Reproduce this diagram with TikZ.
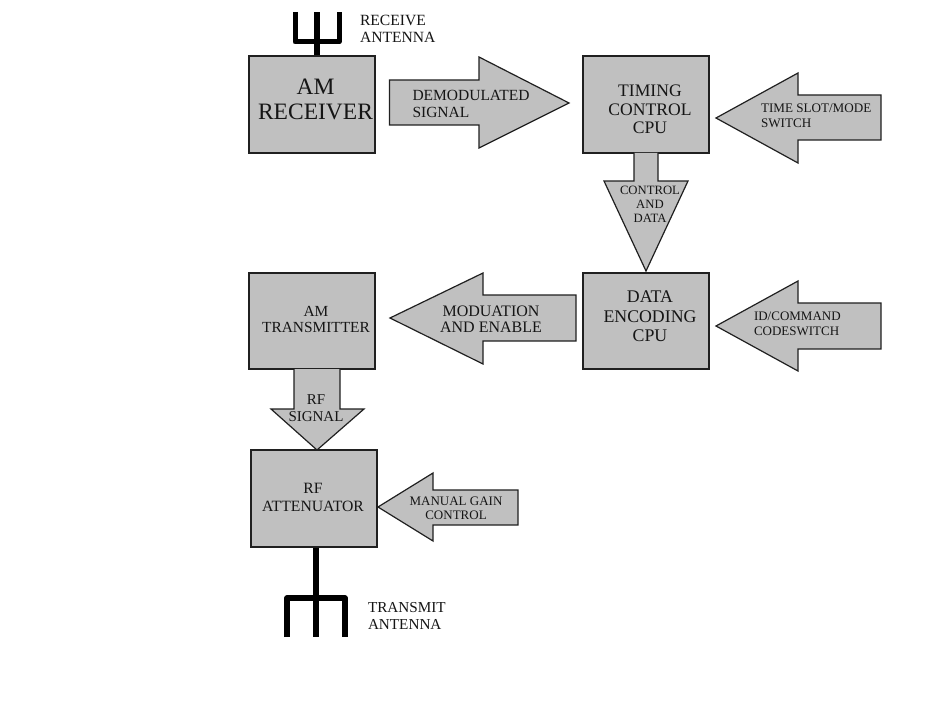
\documentclass[tikz,border=0pt]{standalone}
\usepackage{fontspec}
\setmainfont{Liberation Serif}
\definecolor{blockfill}{HTML}{C0C0C0}
\definecolor{blockline}{HTML}{202020}
\definecolor{inkc}{HTML}{151515}
\newcommand{\pxfont}[2]{\fontsize{#1bp}{#2bp}\selectfont}
\tikzset{
  blockbox/.style={draw=blockline,fill=blockfill,line width=1.5bp,rectangle,inner sep=0pt,outer sep=0pt},
  blockarrow/.style={draw=blockline,fill=blockfill,line width=1.2bp,line join=miter,miter limit=10},
  lbl/.style={inner sep=0pt,outer sep=0pt,text=inkc},
  antenna/.style={draw=black,line width=5bp,line cap=butt,line join=round}
}
\begin{document}
\begin{tikzpicture}[x=1bp,y=-1bp]
\useasboundingbox[fill=white] (0,0) rectangle (937,703);
% antennas
\coordinate (rxbase) at (317,56);
\coordinate (rxtop) at (317,12);
\coordinate (rxl) at (295,42);
\coordinate (rxr) at (339,42);
\draw[antenna,line width=6bp] (rxbase) -- (rxtop);
\draw[antenna] (295,12) -- (rxl) -- (rxr) -- (339,12);
\coordinate (txbase) at (316,547);
\coordinate (txend) at (316,637);
\draw[antenna,line width=5.5bp] (txbase) -- (txend);
\draw[antenna,line width=5.5bp] (287,637) -- (287,598) -- (345,598) -- (345,637);
% boxes
\node[blockbox,minimum width=126bp,minimum height=97bp,anchor=north west] (amrx) at (249,56) {};
\node[blockbox,minimum width=126bp,minimum height=97bp,anchor=north west] (timing) at (583,56) {};
\node[blockbox,minimum width=126bp,minimum height=96bp,anchor=north west] (encode) at (583,273) {};
\node[blockbox,minimum width=126bp,minimum height=96bp,anchor=north west] (amtx) at (249,273) {};
\node[blockbox,minimum width=126bp,minimum height=97bp,anchor=north west] (atten) at (251,450) {};
% block arrows
\draw[blockarrow] (389.5,80) -- (479,80) -- (479,57) -- (569,103) -- (479,148) -- (479,125) -- (389.5,125) -- cycle;
\draw[blockarrow] (881,95) -- (798,95) -- (798,73) -- (716,118) -- (798,163) -- (798,140) -- (881,140) -- cycle;
\draw[blockarrow] (634,153) -- (634,181) -- (604,181) -- (646,271) -- (688,181) -- (658,181) -- (658,153);
\draw[blockarrow] (576,295) -- (483,295) -- (483,273) -- (390,318) -- (483,364) -- (483,341) -- (576,341) -- cycle;
\draw[blockarrow] (881,303) -- (798,303) -- (798,281) -- (716,326) -- (798,371) -- (798,349) -- (881,349) -- cycle;
\draw[blockarrow] (294,369) -- (294,409) -- (271,409) -- (317,450) -- (364,409) -- (340,409) -- (340,369);
\draw[blockarrow] (518,490) -- (433,490) -- (433,473) -- (378,507) -- (433,541) -- (433,525) -- (518,525) -- cycle;
% labels
\node[lbl,align=left,anchor=west,font=\pxfont{15.6}{16.5}] (rxant) at (360,29) {RECEIVE\\ANTENNA};
\node[lbl,align=center,font=\pxfont{23.5}{25}] (amrxt) at (315.5,99.5) {AM\\RECEIVER};
\node[lbl,align=left,anchor=west,font=\pxfont{15.5}{17}] (demod) at (412.5,103.5) {DEMODULATED\\SIGNAL};
\node[lbl,align=center,font=\pxfont{17.6}{18.5}] (timingt) at (650,109.5) {TIMING\\CONTROL\\CPU};
\node[lbl,align=left,anchor=west,font=\pxfont{13.1}{15}] (slot) at (761,115.5) {TIME SLOT/MODE\\SWITCH};
\node[lbl,align=center,font=\pxfont{12.7}{14}] (ctl) at (650,204) {CONTROL\\AND\\DATA};
\node[lbl,align=center,font=\pxfont{17.8}{19.5}] (encodet) at (650,316.5) {DATA\\ENCODING\\CPU};
\node[lbl,align=left,anchor=west,font=\pxfont{13}{15}] (idc) at (754,323.5) {ID/COMMAND\\CODESWITCH};
\node[lbl,align=center,font=\pxfont{15.4}{16}] (amtxt) at (316,319) {AM\\TRANSMITTER};
\node[lbl,align=center,font=\pxfont{16}{16.5}] (modt) at (491,319) {MODUATION\\AND ENABLE};
\node[lbl,align=center,font=\pxfont{15}{17}] (rft) at (316,408.5) {RF\\SIGNAL};
\node[lbl,align=center,font=\pxfont{15.7}{18}] (attent) at (313,497) {RF\\ATTENUATOR};
\node[lbl,align=center,font=\pxfont{13}{13.5}] (gain) at (456,508.5) {MANUAL GAIN\\CONTROL};
\node[lbl,align=left,anchor=west,font=\pxfont{15.2}{17}] (txant) at (368,615.5) {TRANSMIT\\ANTENNA};
\end{tikzpicture}
\end{document}
